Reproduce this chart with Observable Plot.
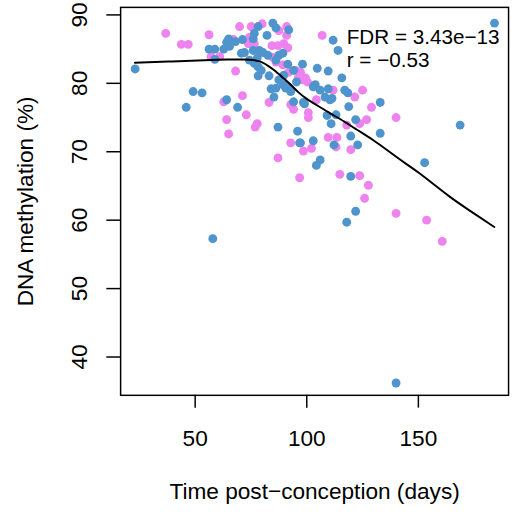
<!DOCTYPE html>
<html><head><meta charset="utf-8">
<script src="https://cdn.jsdelivr.net/npm/d3@7"></script>
<script src="https://cdn.jsdelivr.net/npm/@observablehq/plot@0.6"></script>
<style>html,body{margin:0;padding:0;overflow:hidden;background:#fff}</style>
</head><body><div id="chart"></div>
<script>
// Group 1 (blue) samples: time post-conception (days) and DNA methylation (%)
const blueX = [23.1,46.0,49.1,53.1,57.9,56.2,58.8,58.8,62.8,64.1,65.0,68.1,71.2,78.2,84.8,86.2,91.9,82.2,76.5,76.0,
  70.7,72.1,76.0,78.7,80.4,82.6,74.3,76.5,78.2,79.6,78.2,83.1,87.5,89.3,91.5,98.1,94.1,84.0,86.2,90.6,
  87.5,89.3,92.8,94.1,98.5,102.9,64.1,69.0,87.1,95.9,96.8,111.8,114.0,104.7,109.6,115.7,103.8,106.0,109.6,108.2,
  111.3,117.0,118.4,118.8,132.9,113.1,109.1,110.9,121.9,132.9,119.7,122.8,112.2,102.9,97.2,106.0,104.3,152.8,168.7,184.1,
  119.7,121.9,117.9,140.0,99.0,110.4,95.4,89.7,91.5,65.4,77.8,86.2,85.3];
const blueY = [82.1,76.5,78.8,78.6,57.3,85.0,85.0,83.5,85.0,86.0,86.5,86.1,86.4,88.3,88.8,88.1,87.8,87.0,87.3,86.5,
  84.4,84.5,84.8,84.8,84.5,84.1,83.4,82.9,82.4,81.9,81.1,81.1,84.1,84.4,82.8,82.8,81.9,79.2,79.3,79.3,
  80.5,79.8,78.8,77.3,77.2,79.5,77.6,76.5,73.6,73.0,71.3,86.3,84.8,82.2,81.8,80.8,79.8,79.0,79.2,78.0,
  77.8,79.0,78.6,76.6,77.2,75.4,75.3,74.1,74.7,72.7,72.3,71.0,71.0,71.6,71.3,68.8,68.0,68.4,73.9,88.8,
  66.4,61.3,59.7,36.2,77.0,77.6,80.2,81.2,79.5,85.4,83.7,83.4,78.0];
// Group 2 (pink) samples
const pinkX = [36.8,43.8,46.9,56.2,69.9,75.1,80.0,91.0,87.5,91.0,84.4,87.1,89.7,67.2,74.3,73.8,76.5,57.1,61.0,68.1,
  84.8,86.2,89.3,91.9,95.0,97.2,99.4,100.3,89.7,91.9,92.8,94.1,100.7,100.7,83.1,71.2,62.8,72.9,64.1,77.8,
  76.9,65.0,87.1,92.8,98.5,96.8,102.1,106.9,111.8,125.0,121.5,129.0,126.8,140.0,117.9,123.7,109.6,113.5,113.1,119.7,
  104.3,114.8,123.7,127.6,125.9,140.0,153.7,160.7,98.1,96.3,91.5];
const pinkY = [87.3,85.7,85.7,87.1,88.3,88.3,88.7,88.3,87.7,87.0,85.5,85.5,85.8,86.4,86.7,85.8,85.8,83.9,83.9,81.8,
  83.8,83.1,82.7,81.6,81.9,81.6,80.8,80.2,79.8,79.3,76.9,76.2,75.7,75.0,77.2,78.2,77.3,75.4,74.7,74.1,
  73.6,72.6,69.1,71.3,70.1,66.2,70.5,87.0,79.0,79.0,78.0,76.5,74.7,75.0,73.9,74.1,72.1,72.1,70.7,70.3,
  77.6,66.7,66.5,65.1,63.2,61.0,60.0,56.9,80.5,80.9,85.2];
// Smoothed trend
const fitX = [23,40,55,65,72,77,80,83,86,89,93,96,100,104,110,117,122,130,137,145,150,157,164,172,184];
const fitY = [83.0,83.2,83.4,83.5,83.5,83.4,83.1,82.5,81.8,80.9,79.8,78.7,77.7,76.9,75.7,74.4,73.3,71.7,70.0,68.1,67.0,65.2,63.4,61.6,59.0];
const xTicks = [50,100,150];
const yTicks = [40,50,60,70,80,90];
const annText = ["FDR = 3.43e\u221213", "r = \u22120.53"];
const annX = [117.9,117.9];
const annY = [85.8,82.4];
const xLabel = "Time post\u2212conception (days)";
const yLabel = "DNA methylation (%)";

const blue = blueX.map((x,i)=>({x, y: blueY[i]}));
const pink = pinkX.map((x,i)=>({x, y: pinkY[i]}));
const fit = fitX.map((x,i)=>({x, y: fitY[i]}));
const ann = annText.map((t,i)=>({t, x: annX[i], y: annY[i]}));

const chart = Plot.plot({
  width: 520, height: 521,
  marginLeft: 122, marginRight: 4, marginTop: 7, marginBottom: 120,
  x: {domain: [16.6, 190.4]},
  y: {domain: [34.4, 91.1]},
  style: {fontFamily: "'Liberation Sans', Arial, Helvetica, sans-serif", fontSize: "23px", color: "black", background: "white"},
  marks: [
    Plot.axisX({ticks: xTicks, tickSize: 13, tickPadding: 22, label: null, fontSize: 23, strokeWidth: 1.5}),
    Plot.axisY({ticks: yTicks, tickSize: 14, tickPadding: 20, tickRotate: -90, label: null, fontSize: 23, strokeWidth: 1.5}),
    Plot.dot(pink, {x: "x", y: "y", r: 4.5, fill: "#EE82EE"}),
    Plot.dot(blue, {x: "x", y: "y", r: 4.5, fill: "#4F94CD"}),
    Plot.line(fit, {x: "x", y: "y", stroke: "black", strokeWidth: 2, curve: "basis"}),
    Plot.text(ann, {x: "x", y: "y", text: "t", textAnchor: "start", lineAnchor: "bottom", fontSize: 21, fill: "black"}),
    Plot.text([xLabel], {frameAnchor: "bottom", textAnchor: "middle", lineAnchor: "bottom", dy: 105.5, fontSize: 23, fill: "black"}),
    Plot.text([yLabel], {frameAnchor: "left", textAnchor: "middle", rotate: -90, lineAnchor: "bottom", dx: -89, fontSize: 23, fill: "black"}),
    Plot.frame({stroke: "black", strokeWidth: 1.5})
  ]
});
document.getElementById("chart").appendChild(chart);
</script>
</body></html>
